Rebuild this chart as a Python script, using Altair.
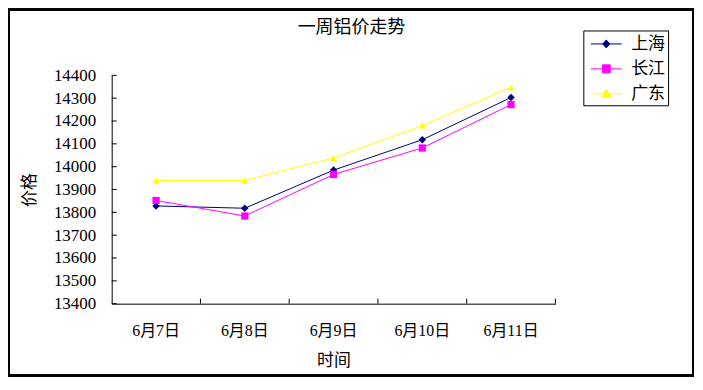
import altair as alt
import pandas as pd

dates = ["6月7日", "6月8日", "6月9日", "6月10日", "6月11日"]
series_names = ["上海", "长江", "广东"]
shanghai = [13828, 13818, 13985, 14118, 14303]
changjiang = [13852, 13784, 13966, 14082, 14272]
guangdong = [13940, 13940, 14038, 14180, 14348]
y_ticks = [13400, 13500, 13600, 13700, 13800, 13900, 14000, 14100, 14200, 14300, 14400]
colors = ["#000080", "#FF00FF", "#FFFF00"]

rows = []
for name, vals in zip(series_names, [shanghai, changjiang, guangdong]):
    for d, v in zip(dates, vals):
        rows.append({"date": d, "series": name, "price": v})
df = pd.DataFrame(rows)
cats = pd.DataFrame({"date": dates})
ticks_df = pd.DataFrame({"price": y_ticks})

W, H = 445, 229
CJK = "Noto Sans CJK SC"
SERIF = "Liberation Serif, Noto Sans CJK SC"

xscale = alt.Scale(type="band", domain=dates, paddingInner=0, paddingOuter=0)
yscale = alt.Scale(domain=[13400, 14400], nice=False, zero=False)
cscale = alt.Scale(domain=series_names, range=colors)

x_axis = alt.Axis(
    title="时间", titleFont=CJK, titleFontSize=17, titleFontWeight="normal",
    titleColor="black", titlePadding=14,
    labelFont=SERIF, labelFontSize=16, labelColor="black", labelPadding=19,
    labelAngle=0, ticks=False, domainColor="black", domainWidth=1, grid=False,
)
y_axis = alt.Axis(
    title="价格", titleFont=CJK, titleFontSize=17, titleFontWeight="normal",
    titleColor="black", titlePadding=15,
    values=y_ticks, format="d", labelFont=SERIF, labelFontSize=17, labelColor="black",
    labelPadding=16, ticks=False, domainColor="black",
    domainWidth=1, grid=False,
)

X = lambda bp: alt.X("date:N", sort=dates, scale=xscale, axis=x_axis, bandPosition=bp)
Y = alt.Y("price:Q", scale=yscale, axis=y_axis)

base = alt.Chart(df)

lines = base.mark_line(strokeWidth=1).encode(
    x=X(0.5),
    y=Y,
    color=alt.Color("series:N", scale=cscale, legend=None),
    detail="series:N",
)

points = base.mark_point(filled=True, opacity=1).encode(
    x=X(0.5),
    y=Y,
    color=alt.Color("series:N", scale=cscale, legend=None),
    shape=alt.Shape("series:N", scale=alt.Scale(domain=series_names,
                    range=["diamond", "square", "triangle-up"]), legend=None),
    size=alt.Size("series:N", scale=alt.Scale(domain=series_names,
                  range=[56, 49, 64]), legend=None),
)

# inward tick marks (Excel style)
xticks = alt.Chart(cats).mark_rule(color="black", strokeWidth=1).encode(
    x=X(1),
    y=alt.value(H),
    y2=alt.value(H - 5),
)
yticks = alt.Chart(ticks_df).mark_rule(color="black", strokeWidth=1).encode(
    y=Y,
    x=alt.value(0),
    x2=alt.value(5),
)

legend_paths = [
    "M-0.6,0L2.5,0M0.95,-0.4L1.3,0L0.95,0.4L0.6,0Z",
    "M-0.6,0L2.5,0M0.55,-0.4L1.35,-0.4L1.35,0.4L0.55,0.4Z",
    "M-0.6,0L2.5,0M0.95,-0.45L1.4,0.35L0.5,0.35Z",
]
leg = alt.Legend(
    title=None, orient="none", legendX=473, legendY=-45, padding=3,
    strokeColor="black", fillColor="white", symbolSize=400, rowPadding=6,
    labelFont=CJK, labelFontSize=17, labelColor="black", labelOffset=24,
    symbolStrokeWidth=1, labelLimit=200,
)
legend_layer = base.transform_filter("datum.price < 0").mark_point(
    filled=True, size=400, strokeWidth=1, opacity=1
).encode(
    x=X(0.5),
    y=Y,
    fill=alt.Fill("series:N", scale=alt.Scale(domain=series_names, range=colors), legend=leg),
    stroke=alt.Stroke("series:N", scale=alt.Scale(domain=series_names, range=colors), legend=leg),
    shape=alt.Shape("series:N", scale=alt.Scale(domain=series_names, range=legend_paths), legend=leg),
)

border = alt.Chart(cats).mark_rect(fill="transparent", stroke="black", strokeWidth=2).encode(
    x=alt.value(-103),
    x2=alt.value(583),
    y=alt.value(-66),
    y2=alt.value(H + 72),
)

chart = alt.layer(lines, points, xticks, yticks, legend_layer, border).resolve_scale(
    shape="independent", fill="independent", stroke="independent",
    size="independent", color="independent",
).resolve_legend(
    shape="independent", fill="independent", stroke="independent",
    size="independent", color="independent",
).properties(
    width=W, height=H,
    padding={"left": 104, "top": 67, "right": 140, "bottom": 75},
    autosize=alt.AutoSizeParams(type="none"),
    background="white",
    title=alt.TitleParams(
        text="一周铝价走势", font=CJK, fontSize=18, fontWeight="normal",
        color="black", anchor="middle", frame="group", dx=18, offset=-29,
    ),
).configure_view(stroke=None)

chart.save("out.html", embed_options={"renderer": "svg", "actions": False})
